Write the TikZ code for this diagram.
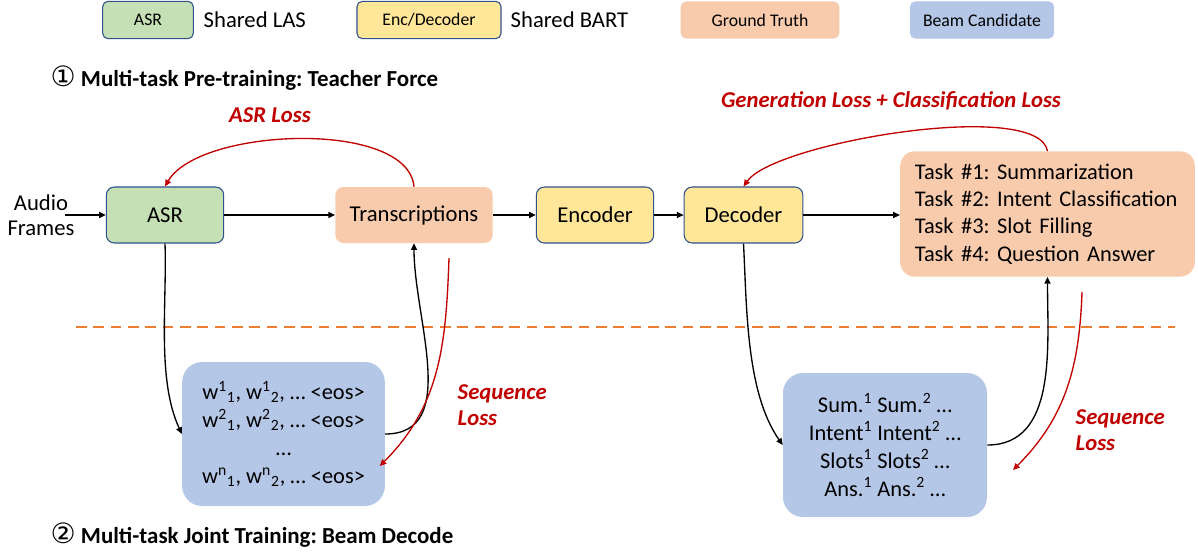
\documentclass[tikz,border=0pt]{standalone}
\usepackage{fontspec}
\setmainfont{Carlito}
\newfontfamily\circfont{DejaVu Sans}
\usepackage{xcolor}
\usepackage{amsmath}
\usepackage{tikz}
\usetikzlibrary{arrows.meta}
\frenchspacing

\definecolor{asrgreen}{HTML}{C5E0B4}
\definecolor{bartyellow}{HTML}{FFE699}
\definecolor{truthpeach}{HTML}{F8CBAD}
\definecolor{beamblue}{HTML}{B4C7E7}
\definecolor{edgeblue}{HTML}{2F528F}
\definecolor{lossred}{HTML}{C00000}
\definecolor{splitorange}{HTML}{ED7D31}

\newcommand{\circnum}[1]{{\circfont\mdseries\fontsize{21}{21}\selectfont #1}}

\begin{document}
\begin{tikzpicture}[x=0.75pt, y=-0.75pt,
        block/.style={rectangle, rounded corners=6pt, minimum height=42pt, font=\fontsize{17}{19}\selectfont},
        model/.style={block, draw=edgeblue, line width=0.8pt},
        key/.style={rectangle, rounded corners=4pt, minimum height=28pt, font=\fontsize{13.3}{15}\selectfont},
        keytext/.style={anchor=west, font=\fontsize{17}{19}\selectfont},
        beam/.style={block, fill=beamblue, rounded corners=15pt, align=center, font=\fontsize{16.8}{21}\selectfont},
        stage/.style={anchor=west, font=\fontsize{17.2}{19}\selectfont\bfseries},
        flow/.style={-{Triangle[length=5pt,width=4.5pt]}, line width=1pt},
        loss/.style={flow, draw=lossred},
        losstext/.style={text=lossred, font=\fontsize{17}{19}\selectfont\bfseries\itshape, align=left}]
        \useasboundingbox (0,0) rectangle (1198,551);

        \node[key, draw=edgeblue, line width=0.8pt, fill=asrgreen, minimum width=68pt] (keyasr) at (148,20) {ASR};
        \node[keytext] (keylas) at (199,20) {Shared LAS};
        \node[key, draw=edgeblue, line width=0.8pt, fill=bartyellow, minimum width=108pt] (keybart) at (429,20) {Enc/Decoder};
        \node[keytext] (keybarttext) at (506,20) {Shared BART};
        \node[key, fill=truthpeach, minimum width=119pt] (keytruth) at (760,20) {Ground Truth};
        \node[key, fill=beamblue, minimum width=108pt] (keybeam) at (982,20) {Beam Candidate};

        \node[stage] (stageone) at (46,78) {\circnum{①} Multi-task Pre-training: Teacher Force};
        \node[stage] (stagetwo) at (46,535) {\circnum{②} Multi-task Joint Training: Beam Decode};

        \node[align=center, inner sep=0pt, font=\fontsize{17}{19}\selectfont] (audio) at (41,215) {Audio\\Frames};
        \node[model, fill=asrgreen, minimum width=88pt] (asr) at (165,215) {ASR};
        \node[block, fill=truthpeach, minimum width=118pt] (trans) at (414,215) {Transcriptions};
        \node[model, fill=bartyellow, minimum width=88pt] (enc) at (595,215) {Encoder};
        \node[model, fill=bartyellow, minimum width=89pt] (dec) at (743.5,215) {Decoder};
        \node[block, fill=truthpeach, rounded corners=11pt, inner xsep=11pt, text width=199pt, minimum height=94pt, align=left, font=\fontsize{16.8}{20.5}\selectfont] (tasks) at (1047.5,214) {Task \#1: Summarization\\Task \#2: Intent Classification\\Task \#3: Slot Filling\\Task \#4: Question Answer};

        \node[beam, minimum width=152pt, minimum height=108pt] (beamasr) at (283.5,434) {w\textsuperscript{1}\textsubscript{1}, w\textsuperscript{1}\textsubscript{2}, … <eos>\\w\textsuperscript{2}\textsubscript{1}, w\textsuperscript{2}\textsubscript{2}, … <eos>\\…\\w\textsuperscript{n}\textsubscript{1}, w\textsuperscript{n}\textsubscript{2}, … <eos>};
        \node[beam, minimum width=153pt, minimum height=108pt] (beamtask) at (885,445) {Sum.\textsuperscript{1} Sum.\textsuperscript{2} …\\Intent\textsuperscript{1} Intent\textsuperscript{2} …\\Slots\textsuperscript{1} Slots\textsuperscript{2} …\\Ans.\textsuperscript{1} Ans.\textsuperscript{2} …};

        \coordinate (splitl) at (76,327);
        \coordinate (splitr) at (1175,327);
        \draw[splitorange, line width=1.5pt, dash pattern=on 8pt off 5pt] (splitl) -- (splitr);

        \draw[flow] ([xshift=-7pt]audio.east) -- (asr.west);
        \draw[flow] (asr) -- (trans);
        \draw[flow] (trans) -- (enc);
        \draw[flow] (enc) -- (dec);
        \draw[flow] (dec.east) -- (dec.east -| tasks.west);

        \draw[flow] (asr.south) to[out=-88, in=115, looseness=0.8] (beamasr.west);
        \draw[flow] (beamasr.east) to[out=0, in=-90] (trans.south);
        \draw[flow] (dec.south) to[out=-87, in=125, looseness=0.8] (beamtask.west);
        \draw[flow] (beamtask.east) to[out=0, in=-90] (tasks.south);

        \node[losstext] (asrloss) at (270,115) {ASR Loss};
        \node[losstext] (genloss) at (891,101) {Generation Loss + Classification Loss};
        \draw[loss] (trans.north) to[out=95, in=60, looseness=0.7] (asr.north);
        \draw[loss] (tasks.north) to[out=100, in=55, looseness=0.45] (dec.north);

        \coordinate (seqasr) at (449,258);
        \coordinate (seqtask) at (1082,292);
        \node[losstext, anchor=west] (seqasrloss) at (453,405) {Sequence\\Loss};
        \node[losstext, anchor=west] (seqtaskloss) at (1071,430) {Sequence\\Loss};
        \draw[loss] (seqasr) to[out=-92, in=45] ([xshift=-4pt,yshift=-3pt]beamasr.east |- 0,462);
        \draw[loss] (seqtask) to[out=-92, in=45] (1013,470);
    \end{tikzpicture}
\end{document}
